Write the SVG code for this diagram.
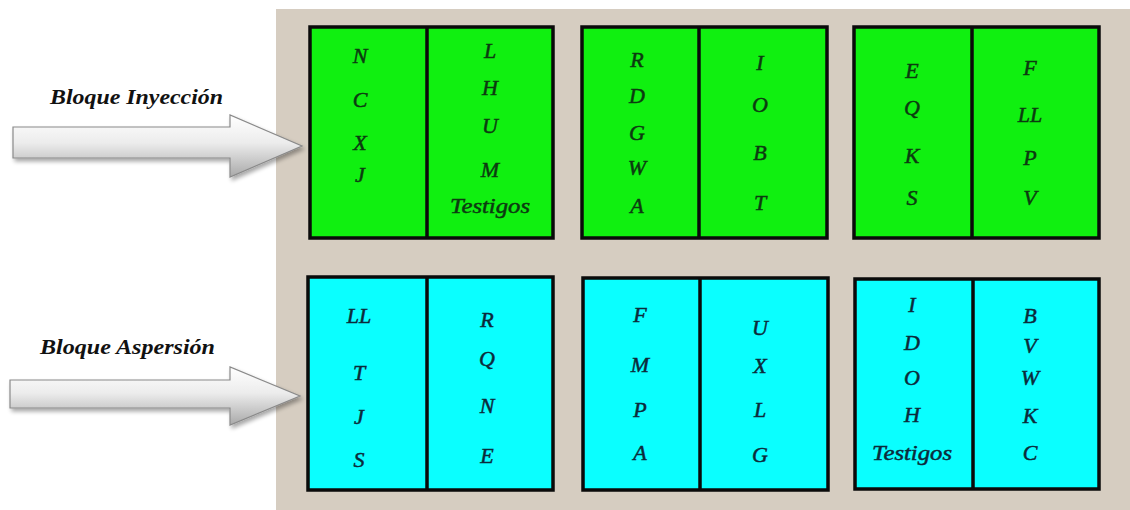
<svg xmlns="http://www.w3.org/2000/svg" width="1130" height="510" viewBox="0 0 1130 510">
<defs>
<linearGradient id="arrowGrad" x1="0" y1="0" x2="0" y2="1">
<stop offset="0" stop-color="#ffffff"/>
<stop offset="0.45" stop-color="#ececec"/>
<stop offset="1" stop-color="#a9a9a9"/>
</linearGradient>
<filter id="shadow" x="-10%" y="-20%" width="130%" height="160%">
<feGaussianBlur in="SourceAlpha" stdDeviation="2"/>
<feOffset dx="2" dy="3" result="b"/>
<feComponentTransfer><feFuncA type="linear" slope="0.35"/></feComponentTransfer>
<feMerge><feMergeNode/><feMergeNode in="SourceGraphic"/></feMerge>
</filter>
</defs>
<style>
.bg{fill:#d6cdc1}
.g{fill:#10f010;stroke:#0a0a0a;stroke-width:3.5}
.c{fill:#0affff;stroke:#0a0a0a;stroke-width:3.5}
.div{stroke:#0a0a0a;stroke-width:3.5}
.t{font-family:"Liberation Serif",serif;font-style:italic;font-size:22px;text-anchor:middle;stroke-width:0.5}
.tg{fill:#0c3a10;stroke:#0c3a10}
.tc{fill:#0c2a3a;stroke:#0c2a3a}
.lab{font-family:"Liberation Serif",serif;font-style:italic;font-weight:bold;font-size:20px;fill:#111}
.arr{fill:url(#arrowGrad);stroke:#8a8a8a;stroke-width:1.2}
</style>
<rect x="0" y="0" width="1130" height="510" fill="#ffffff"/>
<rect class="bg" x="276" y="9" width="854" height="501"/>

<g id="label-inyeccion"><text class="lab" x="50" y="104" textLength="173" lengthAdjust="spacingAndGlyphs">Bloque Inyección</text></g>
<g id="label-aspersion"><text class="lab" x="40" y="354" textLength="175" lengthAdjust="spacingAndGlyphs">Bloque Aspersión</text></g>

<g id="connectors">
<path class="arr" filter="url(#shadow)" d="M13,127 H230 V115 L302,146 L230,177 V158 H13 Z"/>
<path class="arr" filter="url(#shadow)" d="M10,380 H230 V367 L300,396 L230,425 V408 H10 Z"/>
</g>

<g id="block-i1">
<rect class="g" x="310" y="27" width="243" height="211"/>
<line class="div" x1="427" y1="27" x2="427" y2="238"/>
<g class="t tg">
<text x="360" y="63">N</text><text x="360" y="107">C</text><text x="360" y="150">X</text><text x="360" y="182">J</text>
<text x="490" y="58">L</text><text x="490" y="95">H</text><text x="490" y="133">U</text><text x="490" y="177">M</text><text x="490" y="213" textLength="80" lengthAdjust="spacingAndGlyphs">Testigos</text>
</g>
</g>

<g id="block-i2">
<rect class="g" x="582" y="27" width="245" height="211"/>
<line class="div" x1="699" y1="27" x2="699" y2="238"/>
<g class="t tg">
<text x="637" y="67">R</text><text x="637" y="103">D</text><text x="637" y="140">G</text><text x="637" y="175">W</text><text x="637" y="213">A</text>
<text x="760" y="70">I</text><text x="760" y="112">O</text><text x="760" y="160">B</text><text x="760" y="210">T</text>
</g>
</g>

<g id="block-i3">
<rect class="g" x="854" y="27" width="245" height="211"/>
<line class="div" x1="972" y1="27" x2="972" y2="238"/>
<g class="t tg">
<text x="912" y="78">E</text><text x="912" y="115">Q</text><text x="912" y="163">K</text><text x="912" y="205">S</text>
<text x="1030" y="75">F</text><text x="1030" y="122">LL</text><text x="1030" y="165">P</text><text x="1030" y="205">V</text>
</g>
</g>

<g id="block-a1">
<rect class="c" x="308" y="277" width="245" height="213"/>
<line class="div" x1="427" y1="277" x2="427" y2="490"/>
<g class="t tc">
<text x="359" y="323">LL</text><text x="359" y="380">T</text><text x="359" y="424">J</text><text x="359" y="467">S</text>
<text x="487" y="327">R</text><text x="487" y="366">Q</text><text x="487" y="413">N</text><text x="487" y="463">E</text>
</g>
</g>

<g id="block-a2">
<rect class="c" x="583" y="278" width="245" height="212"/>
<line class="div" x1="700" y1="278" x2="700" y2="490"/>
<g class="t tc">
<text x="640" y="322">F</text><text x="640" y="372">M</text><text x="640" y="417">P</text><text x="640" y="460">A</text>
<text x="760" y="335">U</text><text x="760" y="373">X</text><text x="760" y="417">L</text><text x="760" y="462">G</text>
</g>
</g>

<g id="block-a3">
<rect class="c" x="855" y="279" width="244" height="210"/>
<line class="div" x1="973" y1="279" x2="973" y2="489"/>
<g class="t tc">
<text x="912" y="312">I</text><text x="912" y="350">D</text><text x="912" y="385">O</text><text x="912" y="422">H</text><text x="912" y="460" textLength="80" lengthAdjust="spacingAndGlyphs">Testigos</text>
<text x="1030" y="323">B</text><text x="1030" y="353">V</text><text x="1030" y="385">W</text><text x="1030" y="423">K</text><text x="1030" y="460">C</text>
</g>
</g>
</svg>
